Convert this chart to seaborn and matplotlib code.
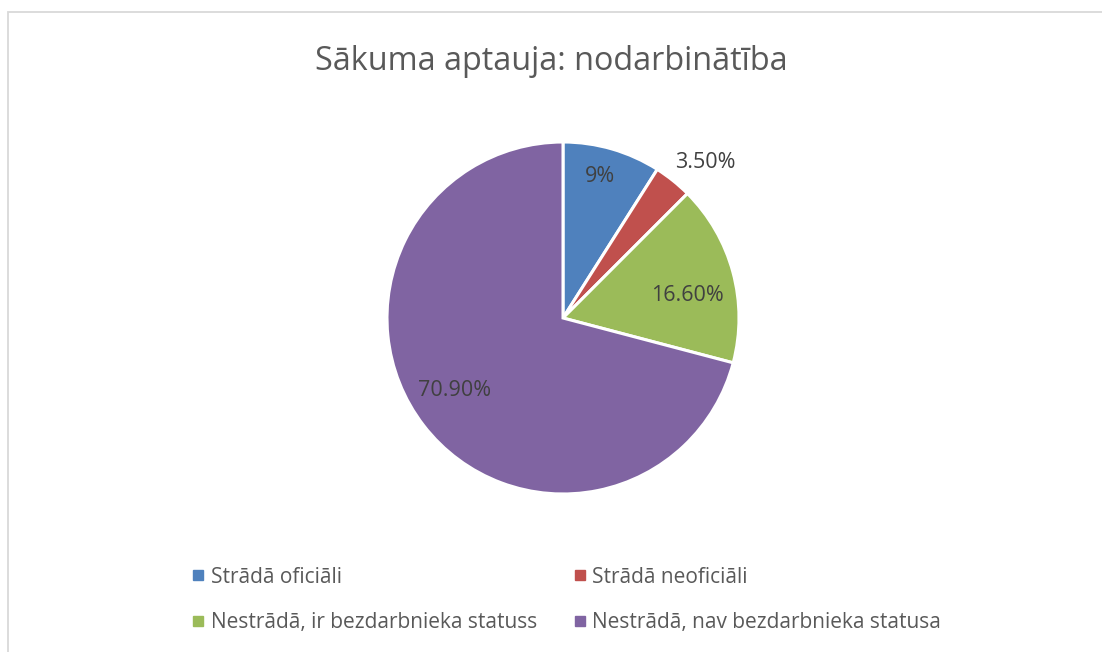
import numpy as np
import seaborn as sns
import matplotlib.pyplot as plt
from matplotlib.lines import Line2D
from matplotlib.patches import Rectangle

# Chart data
categories = ['Strādā oficiāli', 'Strādā neoficiāli',
              'Nestrādā, ir bezdarbnieka statuss', 'Nestrādā, nav bezdarbnieka statusa']
shares = [9, 3.5, 16.6, 70.9]
value_labels = ['9%', '3.50%', '16.60%', '70.90%']
title = 'Sākuma aptauja: nodarbinātība'

# Office style colours
colors = sns.color_palette(['#4F81BD', '#C0504D', '#9BBB59', '#8064A2'])
# label placement: distance from centre (fraction of radius) and angle nudge (deg)
label_dist = [0.83, 1.2, 0.72, 0.745]
label_nudge = [1.5, -3.8, -4.7, -3.8]

sns.set_style('white')
plt.rcParams['font.family'] = ['Open Sans', 'DejaVu Sans']

W, H = 1102, 652
fig = plt.figure(figsize=(W / 100, H / 100), dpi=100)

# light grey chart frame (top + left visible, the rest is cut off)
fig.add_artist(Rectangle((8 / W, -0.2), 2, 1.2 - 12 / H, transform=fig.transFigure,
                         fill=False, edgecolor='#D9D9D9', linewidth=1.3))

# pie axes: centre (563, 318), radius 176 px
cx, cy, r = 563, 318, 176
ax = fig.add_axes([(cx - r) / W, 1 - (cy + r) / H, 2 * r / W, 2 * r / H])
wedges, _ = ax.pie(shares, colors=colors, startangle=90, counterclock=False,
                   wedgeprops=dict(edgecolor='white', linewidth=2.2))
ax.set_xlim(-1, 1)
ax.set_ylim(-1, 1)
ax.set_aspect('auto')
ax.axis('off')

for w, lab, d, nd in zip(wedges, value_labels, label_dist, label_nudge):
    ang = np.deg2rad((w.theta1 + w.theta2) / 2 + nd)
    ax.text(d * np.cos(ang), d * np.sin(ang), lab, ha='center', va='center',
            fontsize=15.5, color='#404040')

fig.text(0.5, 1 - 61 / H, title, ha='center', va='center', fontsize=23.3, color='#595959')

# legend, row-major order like Excel
handles = [Line2D([], [], marker='s', linestyle='', markersize=7, color=c) for c in colors]
order = [0, 2, 1, 3]
fig.legend([handles[i] for i in order], [categories[i] for i in order],
           ncol=2, loc='center', bbox_to_anchor=(567 / W, 1 - 600 / H), frameon=False,
           fontsize=15, labelcolor='#595959', handlelength=0.5, handletextpad=0.35,
           columnspacing=1.8, labelspacing=1.18)

fig.savefig('out.png', dpi=100, facecolor='white')
